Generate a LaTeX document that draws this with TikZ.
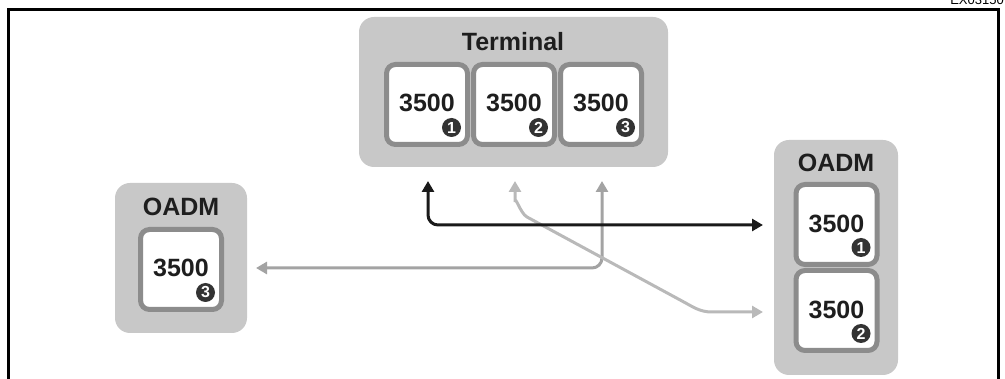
\documentclass[tikz,border=0pt]{standalone}
\usepackage{fontspec}
\setmainfont{Liberation Sans}
\usetikzlibrary{arrows.meta,calc}
\definecolor{grpfill}{HTML}{C8C8C8}
\definecolor{boxline}{HTML}{8C8C8C}
\definecolor{txt}{HTML}{1E1E1E}
\definecolor{badgefill}{HTML}{333333}
\definecolor{lnblack}{HTML}{1A1A1A}
\definecolor{lnlight}{HTML}{B9B9B9}
\definecolor{lnmid}{HTML}{A3A3A3}
\tikzset{
  grp/.style={fill=grpfill, draw=none, rounded corners=15pt},
  grptitle/.style={font=\fontsize{25}{28}\selectfont\bfseries, text=txt, inner sep=0pt},
  unit/.style={draw=boxline, line width=5pt, fill=white, rounded corners=9pt,
    minimum width=81pt, minimum height=80pt, inner sep=0pt, outer sep=0pt,
    font=\fontsize{25}{28}\selectfont\bfseries, text=txt},
  badge/.style={circle, fill=badgefill, text=white, inner sep=0pt, minimum size=19pt,
    font=\fontsize{16}{16}\selectfont\bfseries},
  ctip/.tip={Triangle[length=11pt,width=12pt]},
  conn/.style={line width=3pt, rounded corners=10pt, {ctip}-{ctip}}
}
\begin{document}
\begin{tikzpicture}[x=1pt,y=-1pt]
\useasboundingbox (0,0) rectangle (1005,379);
\clip (0,0) rectangle (1005,379);
% frame
\draw[line width=2.7pt] (8.7,400) -- (8.7,9.3) -- (998.5,9.3) -- (998.5,400);
\node[anchor=base east, font=\fontsize{13}{13}\selectfont, inner sep=0pt] (code) at (1004,5) {EX03150};
% groups
\fill[grp] (359,17) rectangle (668,167);
\fill[grp] (774,140) rectangle (898,375);
\fill[grp] (115,183) rectangle (247,333);
\node[grptitle] (tterm) at (513,42) {Terminal};
\node[grptitle] (toadmr) at (836,163) {OADM};
\node[grptitle] (toadml) at (181,207) {OADM};
% terminal units
\node[unit] (t1) at (427,104.5) {\raisebox{3pt}{3500}};
\node[unit] (t2) at (514,104.5) {\raisebox{3pt}{3500}};
\node[unit] (t3) at (601,104.5) {\raisebox{3pt}{3500}};
% right OADM units
\node[unit] (r1) at (836.5,224.5) {\raisebox{1pt}{3500}};
\node[unit] (r2) at (836.5,310.5) {\raisebox{1pt}{3500}};
% left OADM unit
\node[unit] (l3) at (181,269.5) {\raisebox{3pt}{3500}};
% badges
\node[badge] (bt1) at ($(t1.south east)+(-16,-17)$) {1};
\node[badge] (bt2) at ($(t2.south east)+(-16,-17)$) {2};
\node[badge] (bt3) at ($(t3.south east)+(-16,-17)$) {3};
\node[badge] (br1) at ($(r1.south east)+(-16,-17)$) {1};
\node[badge] (br2) at ($(r2.south east)+(-16,-17)$) {2};
\node[badge] (bl3) at ($(l3.south east)+(-16,-17)$) {3};
% connector end points
\coordinate (a1) at (428,181);
\coordinate (a1e) at (763,225);
\coordinate (a2) at (515,181);
\coordinate (a2e) at (763,312);
\coordinate (a3) at (602,181);
\coordinate (a3e) at (256,268);
% connectors
\draw[conn, color=lnmid] (a3) -- (a3 |- a3e) -- (a3e);
\draw[color=lnlight, line width=3pt, {ctip}-{ctip}]
  (a2) -- (515,202) to[out=90,in=152] (527,217) -- (682,301) to[out=-28,in=180] (712,312) -- (a2e);
\draw[conn, color=lnblack] (a1) -- (a1 |- a1e) -- (a1e);
\end{tikzpicture}
\end{document}
